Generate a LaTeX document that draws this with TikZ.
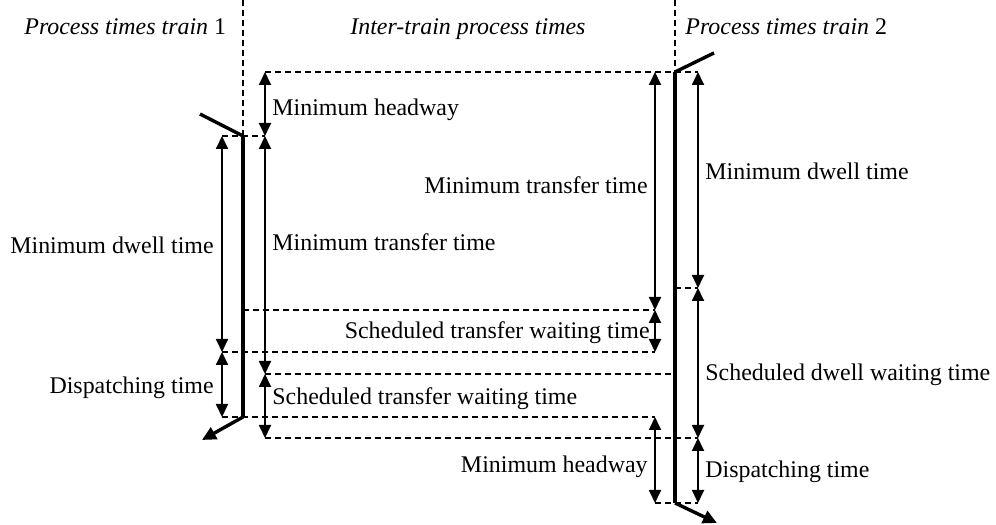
\documentclass[tikz,border=0pt]{standalone}
\usepackage{fontspec}
\setmainfont{Liberation Serif}
\usetikzlibrary{arrows.meta}
\begin{document}
\begin{tikzpicture}[x=0.5bp,y=-0.5bp,
  dim/.style={line width=0.9bp,{Triangle[length=6.5bp,width=6bp]}-{Triangle[length=6.5bp,width=6bp]}},
  guide/.style={line width=0.7bp,dash pattern=on 3bp off 2bp},
  train/.style={line width=2.2bp},
  trainin/.style={line width=1.7bp},
  trainout/.style={line width=1.7bp,-{Triangle[length=7bp,width=6.5bp]}},
  lbl/.style={font=\fontsize{12}{14}\selectfont,inner sep=0pt}]
\useasboundingbox (0,0) rectangle (996,525);
% headers
\node[lbl,anchor=base west] (h1) at (24,35) {\textit{Process times train} 1};
\node[lbl,anchor=base west] (h2) at (350,35) {\textit{Inter-train process times}};
\node[lbl,anchor=base west] (h3) at (685,35) {\textit{Process times train} 2};
% train 1
\coordinate (t1top) at (243,0);
\coordinate (t1a) at (243,136);
\coordinate (t1b) at (243,417);
\coordinate (t1in) at (200,114);
\coordinate (t1out) at (202,440);
\draw[guide] (t1top) -- (t1a);
\draw[train] (t1a) -- (t1b);
\draw[trainin] (t1in) -- (t1a);
\draw[trainout] (t1b) -- (t1out);
% train 2
\coordinate (t2top) at (675,0);
\coordinate (t2a) at (675,72);
\coordinate (t2b) at (675,503);
\coordinate (t2in) at (714,53);
\coordinate (t2out) at (717,523);
\draw[guide] (t2top) -- (t2a);
\draw[train] (t2a) -- (t2b);
\draw[trainin] (t2in) -- (t2a);
\draw[trainout] (t2b) -- (t2out);
% level coordinates
\coordinate (a72) at (265,72);   \coordinate (c72) at (698,72);  \coordinate (b72) at (655,72);
\coordinate (l136) at (222,136); \coordinate (a136) at (265,136);
\coordinate (d288) at (675,288); \coordinate (c288) at (698,288);
\coordinate (t310) at (243,310); \coordinate (b310) at (655,310);
\coordinate (l352) at (222,352); \coordinate (b352) at (655,352);
\coordinate (a374) at (265,374); \coordinate (d374) at (675,374);
\coordinate (l417) at (222,417); \coordinate (b418) at (655,417);
\coordinate (a438) at (265,438); \coordinate (c438) at (698,438);
\coordinate (b503) at (655,503); \coordinate (c503) at (698,503);
% dashed guides
\draw[guide] (a72) -- (c72);
\draw[guide] (l136) -- (a136);
\draw[guide] (d288) -- (c288);
\draw[guide] (t310) -- (b310);
\draw[guide] (l352) -- (b352);
\draw[guide] (a374) -- (d374);
\draw[guide] (l417) -- (b418);
\draw[guide] (a438) -- (c438);
\draw[guide] (b503) -- (c503);
% dimension arrows
\draw[dim] (l136) -- (l352);
\draw[dim] (l352) -- (l417);
\draw[dim] (a72) -- (a136);
\draw[dim] (a136) -- (a374);
\draw[dim] (a374) -- (a438);
\draw[dim] (b72) -- (b310);
\draw[dim] (b310) -- (b352);
\draw[dim] (b418) -- (b503);
\draw[dim] (c72) -- (c288);
\draw[dim] (c288) -- (c438);
\draw[dim] (c438) -- (c503);
% labels
\node[lbl,anchor=base west] (n1) at (272,116) {Minimum headway};
\node[lbl,anchor=base east] (n2) at (214,254) {Minimum dwell time};
\node[lbl,anchor=base west] (n3) at (272,251) {Minimum transfer time};
\node[lbl,anchor=base east] (n4) at (648,194) {Minimum transfer time};
\node[lbl,anchor=base west] (n5) at (705,180) {Minimum dwell time};
\node[lbl,anchor=base east] (n6) at (650,339) {Scheduled transfer waiting time};
\node[lbl,anchor=base east] (n7) at (214,394) {Dispatching time};
\node[lbl,anchor=base west] (n8) at (272,405) {Scheduled transfer waiting time};
\node[lbl,anchor=base west] (n9) at (705,381) {Scheduled dwell waiting time};
\node[lbl,anchor=base east] (n10) at (648,473) {Minimum headway};
\node[lbl,anchor=base west] (n11) at (705,478) {Dispatching time};
\end{tikzpicture}
\end{document}
